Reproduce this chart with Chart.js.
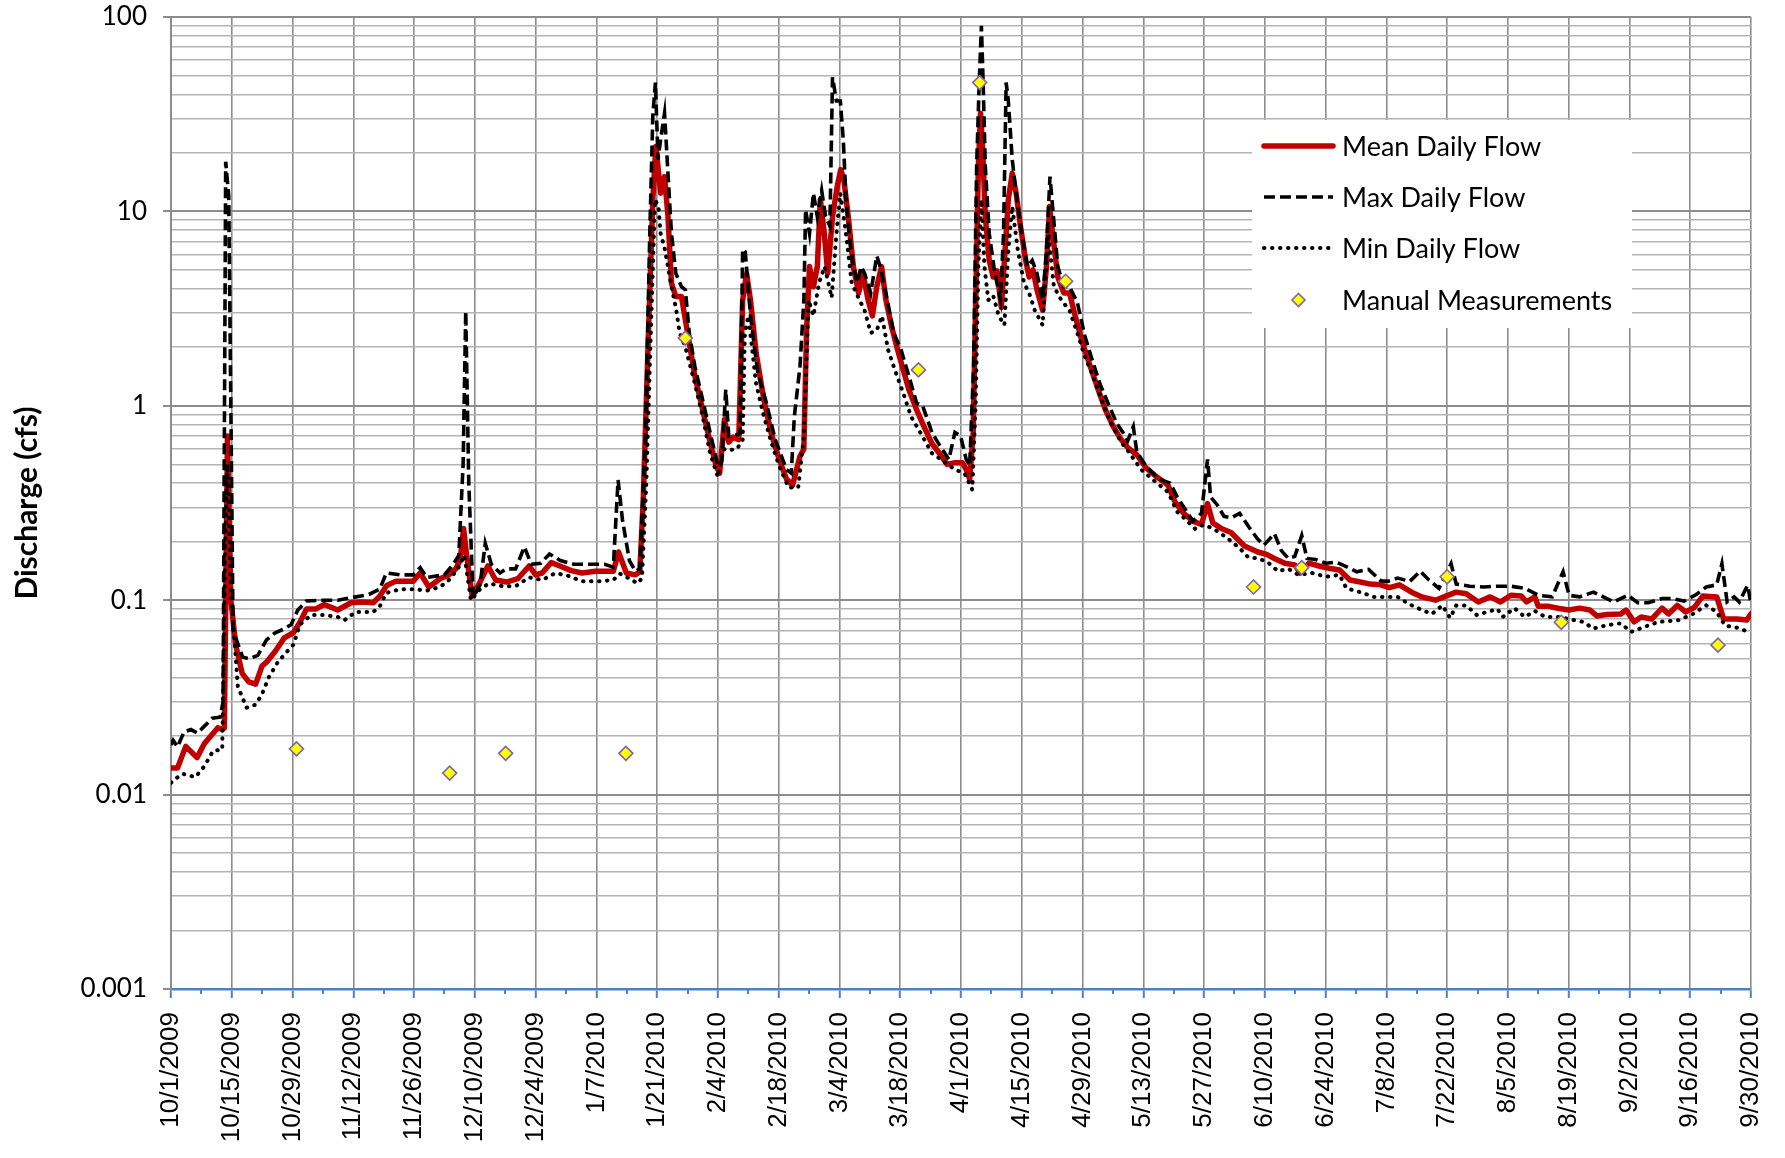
<!DOCTYPE html>
<html>
<head>
<meta charset="utf-8">
<title>Discharge</title>
<script src="https://cdn.jsdelivr.net/npm/chart.js@4.4.1/dist/chart.umd.min.js"></script>
<style>
  html, body { margin: 0; padding: 0; background: #fff; }
  #wrap { width: 1785px; height: 1158px; }
</style>
</head>
<body>
<div id="wrap"><canvas id="flow-chart" width="1785" height="1158"></canvas></div>
<script>
// x values are days since 10/1/2009
const xTickLabels = ['10/1/2009', '10/15/2009', '10/29/2009', '11/12/2009', '11/26/2009', '12/10/2009',
    '12/24/2009', '1/7/2010', '1/21/2010', '2/4/2010', '2/18/2010', '3/4/2010', '3/18/2010', '4/1/2010',
    '4/15/2010', '4/29/2010', '5/13/2010', '5/27/2010', '6/10/2010', '6/24/2010', '7/8/2010', '7/22/2010',
    '8/5/2010', '8/19/2010', '9/2/2010', '9/16/2010', '9/30/2010'];
const yDecades = [0.001, 0.01, 0.1, 1, 10, 100];
const yTickLabels = ['0.001', '0.01', '0.1', '1', '10', '100'];

const meanDays = [0, 1.5, 3.4, 6, 7.7, 10.8, 11.8, 12.3, 13, 13.8,
    14.9, 16.4, 17.9, 19.5, 21, 22, 24.1, 26.1, 28.2, 29.7,
    31.2, 33.3, 35.3, 38.4, 41.5, 44, 46.6, 48.1, 49.7, 51.7,
    55.8, 57.4, 59.4, 62, 64, 65.6, 66.6, 67.4, 68.1, 69.4,
    71.2, 73, 74.8, 77.3, 79.9, 82.5, 84, 85.5, 87.6, 89.6,
    92.2, 94.7, 97.8, 101.9, 103.1, 104.9, 107, 108, 108.8, 110,
    111, 111.7, 112.8, 113.7, 114.5, 115.3, 116.3, 117.6, 118.5, 120.7,
    122.5, 124.2, 125.6, 126.4, 127.5, 128.5, 129.5, 130.8, 131.7, 132.6,
    133.5, 134.8, 136.6, 138.3, 140.1, 141.8, 143.2, 144.9, 145.8, 146.4,
    147.1, 148, 148.9, 149.6, 150.5, 151.3, 152.4, 153.5, 154.3, 155,
    156.1, 157.2, 158.4, 159.4, 160.6, 161.6, 162.6, 163.7, 164.7, 166,
    167.4, 168.7, 170, 171.8, 173.5, 175.3, 177, 178.8, 180.6, 182.3,
    183.2, 184, 184.8, 185.4, 186, 186.5, 187, 187.6, 188.5, 189.4,
    190.3, 191.3, 192, 192.9, 193.8, 194.7, 195.7, 196.9, 197.7, 198.6,
    199.5, 200.8, 201.7, 202.4, 203.3, 204.3, 205.7, 207, 208.3, 210,
    211.8, 213.6, 215.3, 217.1, 218.9, 220.4, 222.5, 224.6, 226.6, 229.7,
    231.3, 233.3, 235.4, 237.4, 238.8, 240, 242.1, 244.2, 247.3, 250.4,
    252.4, 254.2, 256.6, 258.9, 260.1, 262.1, 264.5, 266.8, 269.2, 271.6,
    274, 276.3, 278.7, 280.7, 283, 285.8, 288.2, 291.3, 293.7, 296.1,
    298.4, 301.2, 303.9, 306.3, 308.7, 311.1, 312.3, 314.2, 315, 317.4,
    319.8, 322.1, 324.5, 326.9, 328.5, 330.8, 334, 335.2, 337.1, 338.7,
    341.1, 343.5, 345, 347, 349, 351, 352.9, 356.1, 357.7, 360.8,
    363, 364];
const meanFlow = [0.0137, 0.0137, 0.0177, 0.0155, 0.0183, 0.0221, 0.0216, 0.022, 0.70, 0.10,
    0.059, 0.042, 0.038, 0.037, 0.046, 0.048, 0.055, 0.064, 0.068, 0.077,
    0.090, 0.090, 0.095, 0.089, 0.097, 0.098, 0.097, 0.105, 0.119, 0.125,
    0.125, 0.138, 0.117, 0.129, 0.135, 0.145, 0.16, 0.234, 0.17, 0.105,
    0.124, 0.150, 0.127, 0.124, 0.129, 0.150, 0.135, 0.138, 0.156, 0.150,
    0.142, 0.138, 0.141, 0.141, 0.177, 0.138, 0.135, 0.14, 0.33, 2.37,
    11.5, 21.6, 12.4, 15.1, 9.4, 4.28, 3.65, 3.65, 2.77, 1.42,
    0.95, 0.65, 0.49, 0.45, 0.85, 0.65, 0.69, 0.67, 3.5, 4.8,
    3.5, 1.87, 1.07, 0.72, 0.53, 0.42, 0.39, 0.55, 0.6, 2.37,
    5.2, 4.1, 5.2, 11.5, 7.7, 4.8, 9.4, 13.5, 16.4, 14.6,
    9.1, 5.2, 3.8, 4.8, 3.5, 2.9, 4.1, 5.2, 3.5, 2.56,
    1.94, 1.53, 1.21, 0.95, 0.78, 0.64, 0.57, 0.50, 0.51, 0.51,
    0.47, 0.42, 0.72, 3.5, 17, 32, 20.7, 9.4, 5.6, 4.6,
    4.95, 3.2, 5.6, 11.5, 15.7, 12.4, 8.4, 5.6, 4.6, 5.0,
    3.95, 3.1, 5.2, 10.6, 7.1, 4.6, 3.8, 3.8, 2.9, 2.1,
    1.59, 1.21, 0.95, 0.78, 0.67, 0.61, 0.56, 0.48, 0.44, 0.39,
    0.32, 0.28, 0.255, 0.245, 0.314, 0.25, 0.233, 0.223, 0.19, 0.177,
    0.172, 0.164, 0.155, 0.152, 0.138, 0.155, 0.150, 0.146, 0.143, 0.127,
    0.124, 0.121, 0.12, 0.116, 0.12, 0.11, 0.104, 0.1, 0.105, 0.11,
    0.108, 0.098, 0.104, 0.098, 0.106, 0.105, 0.098, 0.104, 0.093, 0.093,
    0.0906, 0.089, 0.091, 0.089, 0.083, 0.0845, 0.085, 0.089, 0.0774, 0.082,
    0.080, 0.091, 0.085, 0.094, 0.087, 0.092, 0.105, 0.104, 0.08, 0.08,
    0.079, 0.085];

const maxDays = [0, 0.5, 1.5, 3, 4.6, 6.1, 7.7, 9.5, 11.3, 12,
    12.6, 13.3, 14.3, 16.5, 18, 20, 22, 24, 26, 27.7,
    29.2, 31.2, 34.3, 38.4, 41.5, 45.6, 48.1, 49.6, 52.8, 55.8,
    57.4, 58.9, 63, 65, 66.3, 67.3, 67.9, 68.6, 69.6, 71.2,
    72.4, 73.8, 75.8, 77.3, 79.4, 81.4, 83, 85.2, 87.2, 89.7,
    92.8, 96.9, 99.9, 101.9, 103, 104, 105.6, 107, 108, 109.3,
    110.3, 111, 111.6, 112.2, 112.8, 113.7, 114.4, 115.3, 116.3, 117.6,
    118.5, 119.4, 120.7, 122.5, 124.2, 126, 126.9, 127.8, 128.5, 129.5,
    131.1, 131.7, 132.3, 133.5, 135.2, 137, 139.2, 141.8, 142.9, 143.6,
    144.9, 145.8, 146.2, 147.1, 148, 148.9, 149.9, 150.8, 151.8, 152.4,
    153.3, 154.2, 154.9, 155.5, 156.4, 157.2, 158.1, 159, 159.8, 161.2,
    162.6, 163.4, 164.7, 166.5, 168.2, 170, 171.8, 173.1, 175.3, 177,
    179.2, 180.6, 181.9, 183.2, 184, 184.9, 185.6, 186.2, 186.7, 187.1,
    187.6, 188.5, 189.8, 191.1, 191.8, 192.4, 192.9, 193.8, 194.7, 196,
    197.3, 198.4, 199.5, 200.8, 201.7, 202.5, 203.3, 204.3, 205.7, 207,
    208.8, 210.5, 212.3, 214, 216.2, 217.9, 219.3, 220.4, 221.7, 222.5,
    224.6, 227.6, 230.2, 231.8, 233.8, 235.4, 237.4, 238.8, 239.5, 241,
    242.6, 244.2, 246.2, 248.2, 250.3, 251.8, 254.2, 255.8, 257.4, 258.9,
    260.5, 261.7, 263.7, 266.1, 268.4, 270.4, 273.2, 275.9, 278.7, 280.3,
    282.6, 285.4, 287.8, 289.8, 292.1, 294.9, 296.1, 299.2, 302.4, 305.6,
    308.7, 311.9, 315, 318.2, 320.7, 322.1, 324.5, 327.7, 330, 332.4,
    335.6, 337.9, 340.3, 343.5, 345.8, 348.6, 351.4, 353.7, 356.1, 357.3,
    358.5, 360.1, 361.3, 363.2, 364];
const maxFlow = [0.018, 0.019, 0.0176, 0.021, 0.0216, 0.0207, 0.0225, 0.0247, 0.025, 0.03,
    18, 12, 0.07, 0.051, 0.050, 0.052, 0.0625, 0.068, 0.071, 0.075,
    0.089, 0.099, 0.100, 0.100, 0.103, 0.107, 0.114, 0.138, 0.135, 0.135,
    0.147, 0.131, 0.135, 0.153, 0.17, 0.5, 3.06, 0.4, 0.103, 0.12,
    0.196, 0.153, 0.138, 0.145, 0.145, 0.188, 0.153, 0.155, 0.173, 0.16,
    0.153, 0.153, 0.153, 0.148, 0.415, 0.26, 0.16, 0.141, 0.145, 0.7,
    7.7, 31, 46, 18.5, 23.4, 32, 17, 7.7, 4.8, 4.1,
    3.95, 2.37, 1.59, 1.07, 0.73, 0.49, 0.52, 1.21, 0.7, 0.7,
    0.72, 6.4, 6.2, 2.9, 1.48, 1.07, 0.67, 0.47, 0.45, 0.88,
    1.59, 3.5, 10.2, 7.7, 12.4, 9.4, 12.8, 9.4, 8.4, 49,
    37, 37, 23, 11.5, 7.1, 5.2, 4.3, 5.2, 4.8, 3.8,
    5.9, 5.2, 3.8, 2.37, 1.94, 1.42, 1.03, 1.01, 0.73, 0.63,
    0.53, 0.73, 0.7, 0.53, 0.49, 1.59, 17, 46, 90, 46,
    17, 7.7, 4.8, 3.5, 7.7, 46, 37, 18.5, 12.4, 7.7,
    5.2, 5.6, 4.8, 3.5, 6.4, 15.1, 9.4, 5.2, 4.1, 4.1,
    3.4, 2.3, 1.7, 1.3, 0.99, 0.81, 0.73, 0.66, 0.78, 0.58,
    0.49, 0.42, 0.40, 0.34, 0.29, 0.255, 0.28, 0.53, 0.34, 0.31,
    0.27, 0.265, 0.28, 0.24, 0.207, 0.192, 0.22, 0.18, 0.164, 0.168,
    0.215, 0.164, 0.162, 0.155, 0.157, 0.15, 0.14, 0.144, 0.126, 0.125,
    0.13, 0.125, 0.141, 0.127, 0.115, 0.154, 0.121, 0.118, 0.117, 0.118,
    0.118, 0.115, 0.106, 0.104, 0.14, 0.106, 0.104, 0.11, 0.104, 0.098,
    0.106, 0.097, 0.097, 0.102, 0.102, 0.099, 0.107, 0.117, 0.12, 0.154,
    0.098, 0.104, 0.098, 0.119, 0.096];

const minDays = [0, 0.5, 2.6, 5.6, 7.7, 9.7, 11.8, 12.5, 13, 13.8,
    15.4, 17.4, 19.5, 21, 22.5, 24.6, 26.6, 28.2, 29.7, 32.3,
    35.3, 38.4, 40, 42.5, 46.6, 48.1, 49.6, 52.8, 55.8, 58.9,
    62, 64, 66, 67.6, 69.1, 71.2, 73.3, 76.4, 79.4, 82.5,
    85.5, 88.6, 91.7, 94.7, 98.8, 101.9, 103.4, 105.4, 107.5, 108.5,
    109.5, 110.3, 111.5, 112.3, 112.8, 113.7, 114.5, 115.3, 116.3, 117.2,
    118.5, 120.7, 122.5, 124.2, 126, 127.3, 128.2, 130.4, 131.7, 132.2,
    133, 134.8, 136.6, 138.3, 140.1, 142.3, 144.5, 145.8, 146.9, 148,
    149.3, 150.6, 152.2, 153.3, 154.2, 155.5, 156.8, 158.6, 159.8, 161.2,
    162.6, 163.8, 165.2, 166.9, 168.7, 170.5, 172.6, 175.3, 177.9, 180.6,
    182.8, 184.6, 185.4, 186, 186.7, 187.4, 188.3, 189.4, 190.7, 192,
    192.9, 193.8, 195.1, 196.5, 197.7, 199, 200.8, 202.1, 203.4, 205.1,
    207, 208.8, 210.5, 212.3, 214.4, 216.6, 218.9, 220.4, 223.5, 226.6,
    229.7, 231.8, 233.8, 235.9, 238, 240.6, 243.2, 246.2, 248.2, 250.4,
    252.4, 253.4, 255, 257.4, 259.7, 262.9, 266.1, 269.2, 270.8, 274,
    277.1, 280.3, 282.6, 285, 288.2, 290.5, 292.9, 294.7, 296.1, 298.4,
    300.8, 303.2, 305.6, 306.8, 309.5, 311.9, 314.2, 316.6, 319.8, 322.1,
    325.3, 327.7, 330.8, 334, 336.4, 339.5, 342.7, 345, 347.4, 350.6,
    353.7, 356.1, 358, 360.8, 363.2, 364];
const minFlow = [0.0115, 0.0118, 0.0128, 0.0123, 0.014, 0.0168, 0.017, 0.2, 0.5, 0.114,
    0.036, 0.028, 0.029, 0.033, 0.040, 0.048, 0.054, 0.059, 0.075, 0.084,
    0.084, 0.082, 0.079, 0.087, 0.087, 0.093, 0.109, 0.114, 0.114, 0.112,
    0.117, 0.127, 0.144, 0.17, 0.1, 0.114, 0.122, 0.118, 0.118, 0.131,
    0.127, 0.138, 0.133, 0.125, 0.125, 0.127, 0.137, 0.13, 0.122, 0.13,
    0.4, 1.59, 11.5, 10.6, 7.7, 6.5, 5.2, 4.1, 3.2, 2.37,
    2.0, 1.3, 0.88, 0.57, 0.43, 0.6, 0.59, 0.6, 0.67, 2.37,
    2.9, 1.3, 0.88, 0.65, 0.49, 0.38, 0.38, 0.7, 3.5, 2.9,
    4.3, 5.2, 3.6, 7.7, 12.4, 7.7, 4.3, 3.5, 3.1, 2.37,
    2.45, 2.9, 1.94, 1.5, 1.16, 0.88, 0.73, 0.57, 0.52, 0.47,
    0.45, 0.37, 1.07, 5.2, 11.5, 5.2, 3.5, 3.7, 2.9, 2.6,
    6.3, 10.6, 6.3, 4.3, 3.8, 3.1, 2.6, 7.7, 4.1, 3.5,
    3.1, 2.37, 1.8, 1.44, 1.07, 0.81, 0.65, 0.59, 0.47, 0.41,
    0.36, 0.285, 0.26, 0.233, 0.245, 0.23, 0.21, 0.185, 0.166, 0.164,
    0.158, 0.152, 0.141, 0.145, 0.135, 0.138, 0.132, 0.135, 0.115, 0.11,
    0.104, 0.104, 0.104, 0.096, 0.089, 0.085, 0.094, 0.081, 0.094, 0.094,
    0.084, 0.087, 0.09, 0.082, 0.091, 0.082, 0.088, 0.082, 0.082, 0.0799,
    0.0774, 0.0715, 0.0744, 0.076, 0.0687, 0.073, 0.0774, 0.078, 0.079, 0.085,
    0.094, 0.087, 0.074, 0.0722, 0.069, 0.071];

const manualDays = [28.9, 64.2, 77.1, 104.8, 118.5, 172.2, 186.3, 206.1, 249.4, 260.5, 294, 320.3, 356.4];
const manualFlow = [0.0172, 0.0129, 0.0163, 0.0163, 2.23, 1.53, 46, 4.37, 0.117, 0.147, 0.132, 0.077, 0.0587];

function toPoints(days, values) {
    return days.map((d, i) => ({ x: d, y: values[i] }));
}

function isDecade(v) {
    return yDecades.findIndex(d => Math.abs(v / d - 1) < 1e-6);
}

const AXIS_BLUE = '#4f81bd';
const GRID_MAJOR = '#8c8c8c';
const GRID_MINOR = '#b4b4b4';

// white page behind everything
const whiteBg = {
    id: 'whiteBg',
    beforeDraw(chart) {
        const c = chart.ctx;
        c.save();
        c.fillStyle = '#fff';
        c.fillRect(0, 0, chart.width, chart.height);
        c.restore();
    }
};

// short ticks for the weekly minor marks
const minorTicks = {
    id: 'minorTicks',
    afterDraw(chart) {
        const c = chart.ctx;
        const xs = chart.scales.x;
        const bottom = chart.chartArea.bottom;
        c.save();
        c.strokeStyle = AXIS_BLUE;
        c.lineWidth = 2;
        xs.ticks.forEach(t => {
            if (t.value % 14 === 0) return;
            const px = Math.round(xs.getPixelForValue(t.value));
            c.beginPath();
            c.moveTo(px, bottom);
            c.lineTo(px, bottom + 5);
            c.stroke();
        });
        c.restore();
    }
};

// legend box inside the plot, like the Excel one
const boxLegend = {
    id: 'boxLegend',
    afterDraw(chart) {
        const c = chart.ctx;
        const ds = chart.data.datasets;
        c.save();
        c.fillStyle = '#fff';
        c.fillRect(1252, 120, 380, 208);
        const x0 = 1264, x1 = 1333, tx = 1342;
        const rows = [146, 197, 248, 300];
        ds.forEach((d, i) => {
            const y = rows[i];
            c.setLineDash([]);
            if (d.showLine === false) {
                const cx = (x0 + x1) / 2, r = 6.5;
                c.beginPath();
                c.moveTo(cx, y - r);
                c.lineTo(cx + r, y);
                c.lineTo(cx, y + r);
                c.lineTo(cx - r, y);
                c.closePath();
                c.fillStyle = d.pointBackgroundColor;
                c.fill();
                c.lineWidth = d.pointBorderWidth;
                c.strokeStyle = d.pointBorderColor;
                c.stroke();
            } else {
                c.beginPath();
                c.strokeStyle = d.borderColor;
                c.lineWidth = d.borderWidth;
                c.lineCap = d.borderCapStyle || 'butt';
                c.setLineDash(d.borderDash || []);
                c.moveTo(x0, y);
                c.lineTo(x1, y);
                c.stroke();
            }
            c.setLineDash([]);
            c.fillStyle = '#000';
            c.font = '27px Lato, "Open Sans", sans-serif';
            c.textAlign = 'left';
            c.textBaseline = 'middle';
            c.fillText(d.label, tx, y + 1);
        });
        c.restore();
    }
};

const ctx = document.getElementById('flow-chart').getContext('2d');
const flowChart = new Chart(ctx, {
    type: 'line',
    data: {
        datasets: [
            {
                label: 'Mean Daily Flow',
                data: toPoints(meanDays, meanFlow),
                borderColor: '#c00000',
                borderWidth: 5.5,
                borderJoinStyle: 'round',
                borderCapStyle: 'round',
                pointRadius: 0,
                tension: 0,
                order: 3
            },
            {
                label: 'Max Daily Flow',
                data: toPoints(maxDays, maxFlow),
                borderColor: '#000',
                borderWidth: 3.6,
                borderDash: [11, 5],
                pointRadius: 0,
                tension: 0,
                order: 2
            },
            {
                label: 'Min Daily Flow',
                data: toPoints(minDays, minFlow),
                borderColor: '#000',
                borderWidth: 4,
                borderDash: [0.5, 7.5],
                borderCapStyle: 'round',
                pointRadius: 0,
                tension: 0,
                order: 1
            },
            {
                label: 'Manual Measurements',
                data: toPoints(manualDays, manualFlow),
                showLine: false,
                pointStyle: 'rectRot',
                pointRadius: 7,
                pointBackgroundColor: '#ffff00',
                pointBorderColor: '#7f63b0',
                pointBorderWidth: 1.6,
                order: 0
            }
        ]
    },
    options: {
        responsive: false,
        animation: false,
        layout: { padding: { top: 17, right: 34, left: 0, bottom: 0 } },
        plugins: {
            legend: { display: false },
            tooltip: { enabled: false }
        },
        scales: {
            x: {
                type: 'linear',
                min: 0,
                max: (xTickLabels.length - 1) * 14,
                afterBuildTicks(scale) {
                    const ticks = [];
                    xTickLabels.forEach((lab, i) => {
                        ticks.push({ value: i * 14 });
                        if (i < xTickLabels.length - 1) ticks.push({ value: i * 14 + 7 });
                    });
                    scale.ticks = ticks;
                },
                afterFit(scale) {
                    scale.height = 169;
                    scale.paddingLeft = 0;
                    scale.paddingRight = 0;
                },
                ticks: {
                    autoSkip: false,
                    maxRotation: 90,
                    minRotation: 90,
                    padding: 14,
                    color: '#000',
                    font: { family: '"Liberation Sans", Arial, sans-serif', size: 26 },
                    callback: v => (v % 14 === 0 ? xTickLabels[v / 14] : '')
                },
                grid: {
                    color: c => (c.tick && c.tick.value % 14 === 0 && c.tick.value > 0 ? GRID_MAJOR : 'rgba(0,0,0,0)'),
                    lineWidth: 1.6,
                    tickLength: 9,
                    tickWidth: 2,
                    tickColor: c => (c.tick && c.tick.value % 14 === 0 ? AXIS_BLUE : 'rgba(0,0,0,0)')
                },
                border: { color: AXIS_BLUE, width: 2.5 }
            },
            y: {
                type: 'logarithmic',
                min: yDecades[0],
                max: yDecades[yDecades.length - 1],
                afterBuildTicks(scale) {
                    const ticks = [];
                    for (let i = 0; i < yDecades.length - 1; i++) {
                        for (let m = 1; m <= 9; m++) ticks.push({ value: yDecades[i] * m });
                    }
                    ticks.push({ value: yDecades[yDecades.length - 1] });
                    scale.ticks = ticks;
                },
                afterFit(scale) {
                    scale.width = 171;
                    scale.paddingTop = 0;
                    scale.paddingBottom = 0;
                },
                ticks: {
                    autoSkip: false,
                    padding: 16,
                    color: '#000',
                    font: { family: 'Lato, "Open Sans", sans-serif', size: 26 },
                    callback: v => {
                        const i = isDecade(v);
                        return i >= 0 ? yTickLabels[i] : '';
                    }
                },
                grid: {
                    color: c => {
                        if (!c.tick) return GRID_MINOR;
                        if (c.tick.value <= yDecades[0] * 1.0001) return 'rgba(0,0,0,0)';
                        return isDecade(c.tick.value) >= 0 ? GRID_MAJOR : GRID_MINOR;
                    },
                    lineWidth: c => (c.tick && isDecade(c.tick.value) >= 0 ? 2 : 1.6),
                    tickLength: 8,
                    tickWidth: 2,
                    tickColor: c => (c.tick && isDecade(c.tick.value) >= 0 ? GRID_MAJOR : 'rgba(0,0,0,0)')
                },
                border: { color: GRID_MAJOR, width: 2 },
                title: {
                    display: true,
                    text: 'Discharge (cfs)',
                    color: '#000',
                    font: { family: 'Lato, "Open Sans", sans-serif', size: 30, weight: 'bold' },
                    padding: { top: 9, bottom: 0 }
                }
            }
        }
    },
    plugins: [whiteBg, minorTicks, boxLegend]
});
</script>
</body>
</html>
